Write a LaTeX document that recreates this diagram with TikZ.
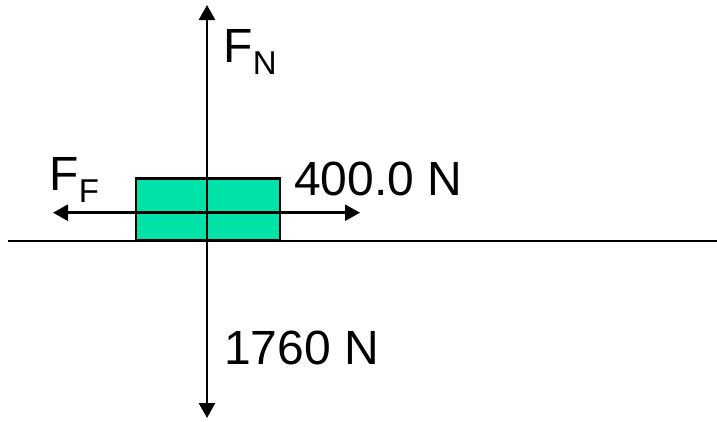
\documentclass[tikz,border=0pt]{standalone}
\usepackage{fontspec}
\setmainfont{Liberation Sans}
\usetikzlibrary{arrows.meta}
\definecolor{boxgreen}{RGB}{0,227,168}
\tikzset{
  force/.style={line width=2.6pt,-{Triangle[width=16pt,length=15pt]}},
  lbl/.style={anchor=base west,inner sep=0pt,font=\fontsize{48}{48}\selectfont},
  sub/.style={anchor=base west,inner sep=0pt,font=\fontsize{33}{33}\selectfont}
}
\begin{document}
\begin{tikzpicture}[x=1pt,y=-1pt]
\useasboundingbox (0,0) rectangle (717,421);
% ground
\coordinate (gl) at (8,241);
\coordinate (gr) at (717,241);
\draw[line width=2.6pt] (gl) -- (gr);
% box
\node[draw=black,line width=2.6pt,fill=boxgreen,minimum width=144pt,minimum height=62pt,inner sep=0pt,anchor=center] (box) at (208,209.5) {};
\coordinate (c) at (207,212.7);
\coordinate (top) at (207,5);
\coordinate (bot) at (207,418);
\coordinate (lft) at (53,212.7);
\coordinate (rgt) at (360,212.7);
\draw[force] (c) -- (top);
\draw[force] (c) -- (bot);
\draw[force] (c) -- (lft);
\draw[force] (c) -- (rgt);
% labels
\node[lbl] (fn) at (223,62) {F};
\node[sub] (fnsub) at (fn.base east) [anchor=base west, yshift=-12pt] {N};
\node[lbl] (ff) at (49,190) {F};
\node[sub] (ffsub) at (ff.base east) [anchor=base west, yshift=-12pt] {F};
\node[lbl] (h) at (294,195) {400.0 N};
\node[lbl] (w) at (224,364) {1760 N};
\end{tikzpicture}
\end{document}
